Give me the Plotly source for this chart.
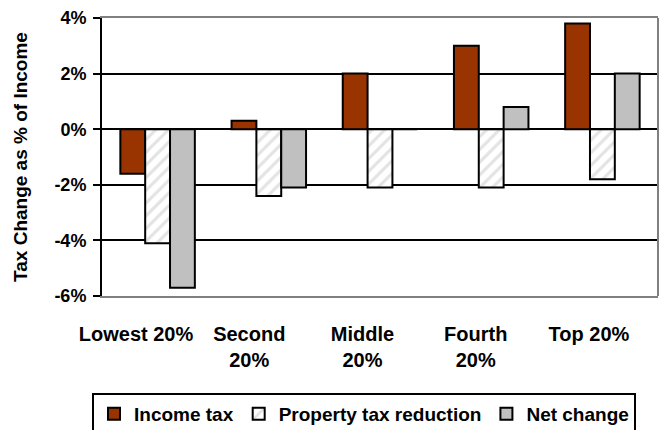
import plotly.graph_objects as go

# ---- data ----
categories = ["Lowest 20%", "Second 20%", "Middle 20%", "Fourth 20%", "Top 20%"]
tick_labels = ["Lowest 20%", "Second<br>20%", "Middle<br>20%", "Fourth<br>20%", "Top 20%"]
income_tax = [-1.6, 0.3, 2.0, 3.0, 3.8]
property_tax = [-4.1, -2.4, -2.1, -2.1, -1.8]
net_change = [-5.7, -2.1, 0.0, 0.8, 2.0]
y_tick_vals = [-6, -4, -2, 0, 2, 4]
y_tick_text = ["-6%", "-4%", "-2%", "0%", "2%", "4%"]

FONT = "Liberation Sans, Arial, sans-serif"
BORDER = dict(color="black", width=2)

fig = go.Figure()
fig.add_trace(go.Bar(name="Income tax", x=categories, y=income_tax,
                     marker=dict(color="#993300", line=BORDER)))
fig.add_trace(go.Bar(name="Property tax reduction", x=categories, y=property_tax,
                     marker=dict(color="white", line=BORDER,
                                 pattern=dict(shape="/", fgcolor="#c8c8c8", bgcolor="white",
                                              size=9, solidity=0.35))))
fig.add_trace(go.Bar(name="Net change", x=categories, y=net_change,
                     marker=dict(color="#c0c0c0", line=BORDER)))
# empty helper trace so the category-label axis is drawn
fig.add_trace(go.Scatter(x=list(range(len(tick_labels))), y=[None] * len(tick_labels),
                         xaxis="x2", yaxis="y2", mode="markers", showlegend=False,
                         hoverinfo="skip"))

L, R, T, B = 70, 7, 18, 134
W, H = 665, 430
pw = W - L - R

fig.update_layout(
    width=W, height=H,
    margin=dict(l=L, r=R, t=T, b=B, pad=0),
    paper_bgcolor="white", plot_bgcolor="rgba(0,0,0,0)",
    font=dict(family=FONT, color="black"),
    barmode="group", bargap=0.33, bargroupgap=0,
    showlegend=True,
    legend=dict(orientation="h", xref="container", yref="container",
                x=92 / W, xanchor="left", y=(H - 393) / H, yanchor="top",
                bordercolor="black", borderwidth=2,
                font=dict(family=FONT, size=19, weight="bold"),
                itemwidth=30, traceorder="normal"),
    xaxis=dict(domain=[(102 - L) / pw, 1], type="category",
               range=[-0.5, 4.5], showticklabels=False, ticks="",
               showline=True, linecolor="#808080", linewidth=2, mirror=True,
               showgrid=False, zeroline=False, automargin=False),
    xaxis2=dict(domain=[(79.4 - L) / pw, (645.6 - L) / pw], anchor="y2",
                side="bottom", range=[-0.5, 4.5],
                tickmode="array", tickvals=list(range(len(tick_labels))),
                ticktext=tick_labels, ticks="outside", ticklen=20,
                tickcolor="rgba(0,0,0,0)", showline=False, showgrid=False,
                zeroline=False, automargin=False,
                tickfont=dict(family=FONT, size=20, weight="bold")),
    yaxis2=dict(domain=[0, 1], anchor="x2", range=[0, 1], visible=False,
                showgrid=False, zeroline=False),
    yaxis=dict(range=[-6, 4], tickmode="array", tickvals=y_tick_vals,
               ticktext=y_tick_text, ticks="outside", ticklen=7,
               tickcolor="black", tickwidth=2, ticklabelstandoff=3,
               showline=True, linecolor="black", linewidth=2,
               showgrid=True, gridcolor="black", gridwidth=2,
               zeroline=True, zerolinecolor="black", zerolinewidth=2,
               automargin=False,
               tickfont=dict(family=FONT, size=18, weight="bold"),
               title=dict(text="Tax Change as % of Income", standoff=22,
                          font=dict(family=FONT, size=19, weight="bold"))),
)

# right edge of the plot frame (gray)
fig.add_shape(type="line", xref="x domain", yref="y domain", x0=1, x1=1, y0=0, y1=1,
              line=dict(color="#808080", width=2), layer="above")

fig.write_html("out.html")
